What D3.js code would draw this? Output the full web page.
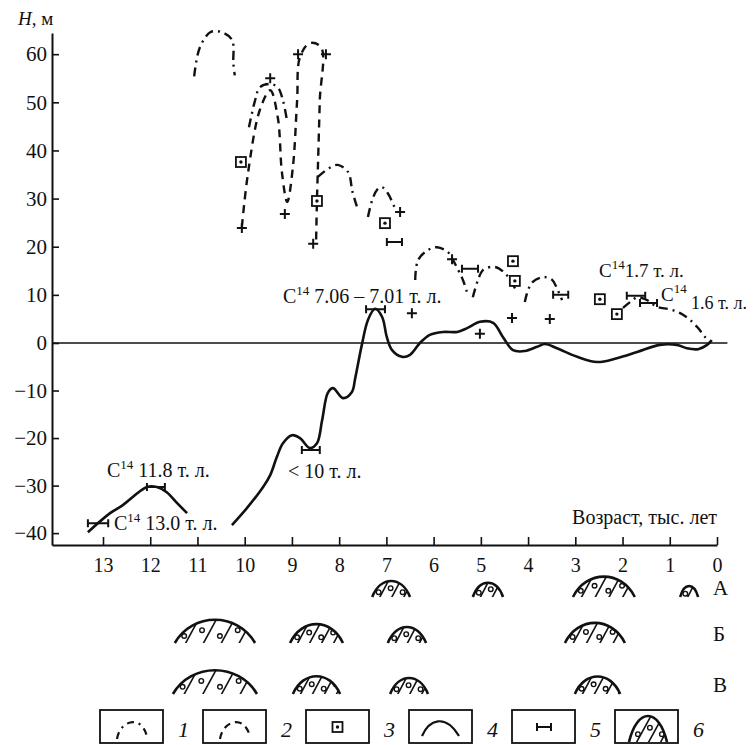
<!DOCTYPE html>
<html>
<head>
<meta charset="utf-8">
<script src="https://cdn.jsdelivr.net/npm/d3@7"></script>
<style>
  body { margin: 0; background: #fff; }
  svg { display: block; }
  svg text { font-family: "Liberation Serif", "DejaVu Serif", "Noto Serif", serif; fill: #111; }
</style>
</head>
<body>
<div id="chart"></div>
<script>
// ages in thousand years, heights in metres
var ageTicks = [13, 12, 11, 10, 9, 8, 7, 6, 5, 4, 3, 2, 1, 0];
var heightTicks = [60, 50, 40, 30, 20, 10, 0, -10, -20, -30, -40];

// 1 - dash-dot arcs
var dashDotArcs = [
  [[11.07, 55.4], [10.95, 61.4], [10.72, 64.6], [10.5, 64.6], [10.27, 63.0], [10.24, 58], [10.21, 55.6]],
  [[9.91, 44.8], [9.78, 50.4], [9.68, 53.1], [9.46, 53.8], [9.3, 53.1], [9.19, 50.4], [9.1, 45.9]],
  [[8.45, 34.5], [8.22, 36.3], [8.03, 37.0], [7.81, 35.5], [7.72, 31.5], [7.62, 28.2]],
  [[7.39, 26.2], [7.3, 29.7], [7.2, 31.8], [7.1, 32.4], [6.97, 31.1], [6.82, 28.0]],
  [[6.39, 13.1], [6.33, 17.2], [6.12, 19.3], [5.93, 19.9], [5.7, 18.9], [5.59, 17.2], [5.38, 13.1], [5.29, 10.4]],
  [[5.17, 9.5], [5.06, 13.1], [4.95, 15.2], [4.7, 15.8], [4.49, 14.5], [4.34, 12.5], [4.23, 10.4]],
  [[4.07, 8.5], [4.0, 11.0], [3.9, 12.7], [3.68, 13.7], [3.49, 13.1], [3.39, 11.4], [3.28, 8.9]],
  [[1.99, 7.3], [1.84, 8.5], [1.69, 9.5], [1.48, 8.9], [1.27, 7.5], [1.0, 7.0], [0.78, 6.2],
   [0.57, 4.8], [0.4, 3.1], [0.25, 1.2], [0.15, 0.2]]
];

// 2 - dashed curve
var dashedCurve = [
  [10.06, 24.1], [9.93, 35.3], [9.68, 48.4], [9.46, 52.5], [9.3, 46.9], [9.21, 35.3],
  [9.1, 29.3], [8.98, 36.5], [8.89, 50.4], [8.83, 59.4], [8.62, 62.3], [8.38, 61.4],
  [8.41, 50.4], [8.45, 36.5], [8.47, 29.7], [8.49, 20.3]
];

// 3 - squares
var squares = [[10.08, 37.6], [8.47, 29.5], [7.03, 24.9], [4.32, 17.0], [4.28, 12.9], [2.48, 9.1], [2.12, 6.0]];

// crosses
var crosses = [[10.06, 23.9], [9.46, 55.0], [9.15, 26.8], [8.87, 60.0], [8.28, 60.0], [8.55, 20.6],
  [6.71, 27.2], [6.46, 6.2], [5.61, 17.4], [5.02, 1.9], [4.34, 5.2], [3.54, 5.0]];

// 4 - solid curve, two pieces
var solidOld = [[13.32, -39.8], [12.85, -35.8], [12.58, -34.1], [12.07, -30.3], [11.86, -30.3],
  [11.65, -31.4], [11.43, -33.7], [11.22, -35.8]];
var solidYoung = [
  [10.27, -38.3], [9.95, -34.7], [9.61, -30.3], [9.46, -27.8], [9.32, -24.0], [9.19, -21.1],
  [9.0, -19.4], [8.83, -20.0], [8.62, -22.1], [8.47, -21.1], [8.36, -16.2], [8.24, -10.5],
  [8.13, -9.5], [7.92, -11.6], [7.73, -10.3], [7.66, -7.4], [7.52, -0.4], [7.39, 4.8],
  [7.24, 7.1], [7.09, 5.4], [6.99, 1.2], [6.88, -1.5], [6.67, -2.9], [6.5, -2.5], [6.29, 0],
  [6.08, 1.7], [5.8, 2.3], [5.5, 2.3], [5.29, 3.1], [5.02, 4.4], [4.74, 4.2], [4.53, 1.2],
  [4.32, -1.5], [4.07, -1.7], [3.81, -0.8], [3.64, -0.2], [3.39, -1.1], [2.96, -2.9],
  [2.54, -4.0], [2.12, -3.2], [1.69, -1.9], [1.21, -0.4], [0.85, -0.4], [0.64, -1.1],
  [0.4, -1.3], [0.21, -0.4], [0.11, 0.6]
];

// 5 - C14 age ranges [from, to, H]
var c14Bars = [[13.32, 12.89, -37.9], [12.07, 11.69, -30.3], [8.79, 8.41, -22.5], [7.43, 7.03, 7.0],
  [6.99, 6.67, 21.0], [5.4, 5.06, 15.4], [3.47, 3.15, 10.0], [1.91, 1.52, 9.8], [1.63, 1.27, 8.3]];

// 6 - facies rows [from, to]
var rowNames = ["А", "Б", "В"];
var rowA = [[7.3, 6.5], [5.17, 4.53], [3.05, 1.74], [0.78, 0.4]];
var rowB = [[11.48, 9.78], [9.04, 7.92], [6.97, 6.16], [3.22, 1.95]];
var rowV = [[11.52, 9.74], [8.98, 7.98], [6.92, 6.12], [3.01, 2.05]];

var legendNums = ["1", "2", "3", "4", "5", "6"];

var W = 753, H = 745;
var svg = d3.select("#chart").append("svg").attr("width", W).attr("height", H);

var x = d3.scaleLinear().domain([14.08, 0]).range([52, 717]);
var y = d3.scaleLinear().domain([-42.5, 0, 64.4]).range([545, 343, 33]);

// axes
var gx = svg.append("g").attr("transform", "translate(0,545)")
  .call(d3.axisBottom(x).tickValues(ageTicks).tickSizeInner(-8).tickSizeOuter(0).tickPadding(13).tickFormat(d3.format("d")));
var gy = svg.append("g").attr("transform", "translate(52,0)")
  .call(d3.axisLeft(y).tickValues(heightTicks).tickSizeInner(-7).tickSizeOuter(0).tickPadding(5));
[gx, gy].forEach(function (g) {
  g.attr("font-family", null).attr("font-size", null);
  g.select(".domain").attr("stroke", "#111").attr("stroke-width", 2);
  g.selectAll(".tick line").attr("stroke", "#111").attr("stroke-width", 1.6);
  g.selectAll(".tick text").attr("fill", "#111");
});
gx.selectAll(".tick text").style("font-size", "20px");
gy.selectAll(".tick text").style("font-size", "21px");

svg.append("text").attr("x", 18).attr("y", 25).style("font-size", "19px")
  .call(function (t) {
    t.append("tspan").style("font-style", "italic").text("H");
    t.append("tspan").text(", м");
  });
svg.append("text").attr("x", 717).attr("y", 524).attr("text-anchor", "end")
  .style("font-size", "20px").text("Возраст, тыс. лет");

// zero line
svg.append("line").attr("x1", x.range()[0]).attr("x2", x(-0.22))
  .attr("y1", y(0)).attr("y2", y(0)).attr("stroke", "#111").attr("stroke-width", 1.6);

var line = d3.line().x(function (d) { return x(d[0]); }).y(function (d) { return y(d[1]); })
  .curve(d3.curveCatmullRom.alpha(0.5));

svg.selectAll("path.dd").data(dashDotArcs).enter().append("path").attr("class", "dd")
  .attr("d", line).attr("fill", "none").attr("stroke", "#111").attr("stroke-width", 2.4)
  .attr("stroke-dasharray", "9,5,2,5");

svg.append("path").datum(dashedCurve).attr("d", line).attr("fill", "none")
  .attr("stroke", "#111").attr("stroke-width", 2.4).attr("stroke-dasharray", "8,6");

svg.selectAll("path.solid").data([solidOld, solidYoung]).enter().append("path").attr("class", "solid")
  .attr("d", line).attr("fill", "none").attr("stroke", "#111").attr("stroke-width", 2.6);

// crosses
svg.selectAll("path.cross").data(crosses).enter().append("path").attr("class", "cross")
  .attr("transform", function (d) { return "translate(" + x(d[0]) + "," + y(d[1]) + ")"; })
  .attr("d", "M-5,0H5M0,-5V5").attr("stroke", "#111").attr("stroke-width", 2);

// squares
var sq = svg.selectAll("g.sq").data(squares).enter().append("g").attr("class", "sq")
  .attr("transform", function (d) { return "translate(" + x(d[0]) + "," + y(d[1]) + ")"; });
sq.append("rect").attr("x", -5).attr("y", -5).attr("width", 10).attr("height", 10)
  .attr("fill", "#fff").attr("stroke", "#111").attr("stroke-width", 1.8);
sq.append("circle").attr("r", 1.7).attr("fill", "#111");

// C14 bars
svg.selectAll("path.bar").data(c14Bars).enter().append("path").attr("class", "bar")
  .attr("d", function (d) {
    var x0 = x(d[0]), x1 = x(d[1]), yy = y(d[2]);
    return "M" + x0 + "," + yy + "H" + x1 + "M" + x0 + "," + (yy - 4) + "V" + (yy + 4) +
      "M" + x1 + "," + (yy - 4) + "V" + (yy + 4);
  })
  .attr("fill", "none").attr("stroke", "#111").attr("stroke-width", 2);

// C14 labels
function c14Label(px, py, rest, size) {
  var t = svg.append("text").attr("x", px).attr("y", py).style("font-size", (size || 20) + "px");
  t.append("tspan").text("C");
  t.append("tspan").attr("dy", -8).style("font-size", "13px").text("14");
  if (rest) t.append("tspan").attr("dy", 8).text(rest);
  return t;
}
c14Label(283, 303, " 7.06 – 7.01 т. л.");
c14Label(599, 277, "1.7 т. л.", 19);
c14Label(661, 301, "", 19);
svg.append("text").attr("x", 691).attr("y", 309).style("font-size", "18px").text("1.6 т. л.");
c14Label(107, 477, " 11.8 т. л.");
c14Label(114, 530, " 13.0 т. л.");
svg.append("text").attr("x", 288).attr("y", 478).style("font-size", "20px").text("< 10 т. л.");

// facies symbols
var clipId = 0;
function facies(g, x0, x1, yb, h) {
  var w = x1 - x0;
  var dome = "M" + x0 + "," + yb + " C" + (x0 + w * 0.22) + "," + (yb - h * 1.33) + " " +
    (x1 - w * 0.22) + "," + (yb - h * 1.33) + " " + x1 + "," + yb;
  var id = "fc" + (clipId++);
  g.append("clipPath").attr("id", id).append("path").attr("d", dome + "Z");
  var inner = g.append("g").attr("clip-path", "url(#" + id + ")");
  var step = Math.max(12, w / 4.5);
  var lines = d3.range(x0 + step * 0.55, x1, step);
  inner.selectAll("line").data(lines).enter().append("line")
    .attr("x1", function (d) { return d; }).attr("y1", yb + 2)
    .attr("x2", function (d) { return d + h * 0.7; }).attr("y2", yb - h * 1.2)
    .attr("stroke", "#111").attr("stroke-width", 1.6);
  inner.selectAll("circle").data(lines).enter().append("circle")
    .attr("cx", function (d) { return d - step * 0.35 + h * 0.25; })
    .attr("cy", function (d, i) { return yb - h * (i % 2 ? 0.55 : 0.3); })
    .attr("r", 2.3).attr("fill", "none").attr("stroke", "#111").attr("stroke-width", 1.4);
  g.append("path").attr("d", dome).attr("fill", "none").attr("stroke", "#111").attr("stroke-width", 2.6);
}

var rows = [rowA, rowB, rowV];
var rowBase = [597, 643, 694];
rows.forEach(function (row, r) {
  var g = svg.append("g");
  row.forEach(function (d) {
    var x0 = x(d[0]), x1 = x(d[1]);
    facies(g, x0, x1, rowBase[r], 2.6 * Math.sqrt(x1 - x0));
  });
  svg.append("text").attr("x", 713).attr("y", rowBase[r] - 2).style("font-size", "21px").text(rowNames[r]);
});

// legend
var lg = svg.append("g").attr("transform", "translate(100,710)");
var box = lg.selectAll("g").data(legendNums).enter().append("g")
  .attr("transform", function (d, i) { return "translate(" + (i * 103) + ",0)"; });
box.append("rect").attr("width", 63).attr("height", 33).attr("fill", "none")
  .attr("stroke", "#111").attr("stroke-width", 1.8);
box.append("text").attr("x", 78).attr("y", 27).style("font-size", "22px").style("font-style", "italic")
  .text(function (d) { return d; });

var arcIcon = "M17,29 C20,10 42,4 47,27";
d3.select(box.nodes()[0]).append("path").attr("d", arcIcon).attr("fill", "none").attr("stroke", "#111")
  .attr("stroke-width", 2.2).attr("stroke-dasharray", "7,5,2,5");
d3.select(box.nodes()[1]).append("path").attr("d", arcIcon).attr("fill", "none").attr("stroke", "#111")
  .attr("stroke-width", 2.2).attr("stroke-dasharray", "7,5");
var b3 = d3.select(box.nodes()[2]);
b3.append("rect").attr("x", 26.5).attr("y", 12).attr("width", 10).attr("height", 10)
  .attr("fill", "none").attr("stroke", "#111").attr("stroke-width", 1.8);
b3.append("circle").attr("cx", 31.5).attr("cy", 17).attr("r", 1.7).attr("fill", "#111");
d3.select(box.nodes()[3]).append("path").attr("d", "M13,26 C20,10 36,3 50,26").attr("fill", "none")
  .attr("stroke", "#111").attr("stroke-width", 2.2);
d3.select(box.nodes()[4]).append("path").attr("d", "M25,17H39M25,13V21M39,13V21").attr("fill", "none")
  .attr("stroke", "#111").attr("stroke-width", 2);
facies(d3.select(box.nodes()[5]), 14, 52, 32, 26);
</script>
</body>
</html>
